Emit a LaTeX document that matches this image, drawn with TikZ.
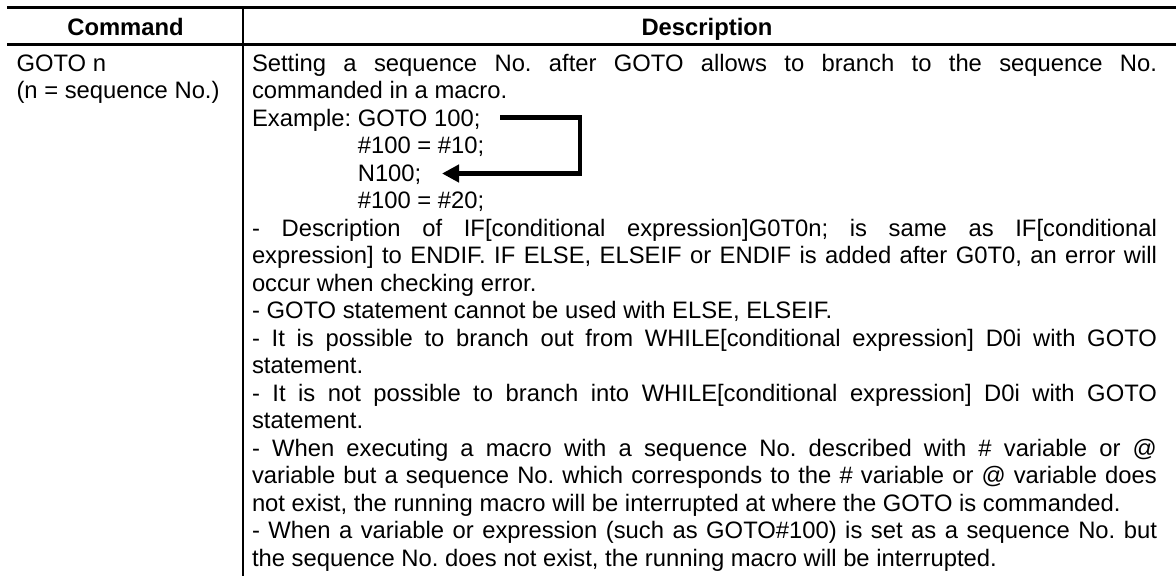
\documentclass[tikz,border=0pt]{standalone}
\usepackage{fontspec}
\setmainfont{Liberation Sans}
\usetikzlibrary{arrows.meta,calc}
\newlength{\jw}\setlength{\jw}{905pt}
\newcommand{\jl}[1]{\makebox[\jw][s]{#1}}
\newcommand{\ind}{\phantom{Example: }}
\frenchspacing
\begin{document}
\begin{tikzpicture}[x=1pt,y=-1pt,
  txt/.style={anchor=base west, inner sep=0pt, outer sep=0pt, font=\fontsize{23.8}{27.5}\selectfont\frenchspacing},
  hdr/.style={anchor=base, inner sep=0pt, outer sep=0pt, font=\fontsize{23.8}{27.5}\selectfont\bfseries},
  rulel/.style={line width=3pt},
  jump/.style={line width=4.5pt, -{Triangle[length=17pt,width=17pt]}}]
\useasboundingbox (0,0) rectangle (1176,576);
% table rules
\draw[rulel] (7,7.5) -- (1176,7.5);
\draw[rulel] (7,44.5) -- (1176,44.5);
\draw[line width=2.6pt] (243,7.5) -- (243,576);
% headers
\node[hdr] (hcmd) at (125.5,35) {Command};
\node[hdr] (hdesc) at (707,35) {Description};
% left column
\node[txt] (c1) at (16.5,71) {GOTO n};
\node[txt] (c2) at (16.5,98.5) {(n = sequence No.)};
% right column
\node[txt] (l1) at (252,71) {\jl{Setting a sequence No. after GOTO allows to branch to the sequence No.}};
\node[txt] (l2) at (252,98.5) {commanded in a macro.};
\node[txt] (l3) at (252,126) {Example: GOTO 100;};
\node[txt] (l4) at (252,153.5) {\ind\#100 = \#10;};
\node[txt] (l5) at (252,181) {\ind N100;};
\node[txt] (l6) at (252,208.5) {\ind\#100 = \#20;};
\node[txt] (l7) at (252,236) {\jl{- Description of IF[conditional expression]G0T0n; is same as IF[conditional}};
\node[txt] (l8) at (252,263.5) {\jl{expression] to ENDIF. IF ELSE, ELSEIF or ENDIF is added after G0T0, an error will}};
\node[txt] (l9) at (252,291) {occur when checking error.};
\node[txt] (l10) at (252,318.5) {- GOTO statement cannot be used with ELSE, ELSEIF.};
\node[txt] (l11) at (252,346) {\jl{- It is possible to branch out from WHILE[conditional expression] D0i with GOTO}};
\node[txt] (l12) at (252,373.5) {statement.};
\node[txt] (l13) at (252,401) {\jl{- It is not possible to branch into WHILE[conditional expression] D0i with GOTO}};
\node[txt] (l14) at (252,428.5) {statement.};
\node[txt] (l15) at (252,456) {\jl{- When executing a macro with a sequence No. described with \# variable or @}};
\node[txt] (l16) at (252,483.5) {\jl{variable but a sequence No. which corresponds to the \# variable or @ variable does}};
\node[txt] (l17) at (252,511) {not exist, the running macro will be interrupted at where the GOTO is commanded.};
\node[txt] (l18) at (252,538.5) {\jl{- When a variable or expression (such as GOTO\#100) is set as a sequence No. but}};
\node[txt] (l19) at (252,566) {the sequence No. does not exist, the running macro will be interrupted.};
% jump arrow
\coordinate (as) at (500,117.5);
\coordinate (ae) at (442,173.5);
\draw[jump] (as) -- (580,117.5) |- (ae);
\end{tikzpicture}
\end{document}
